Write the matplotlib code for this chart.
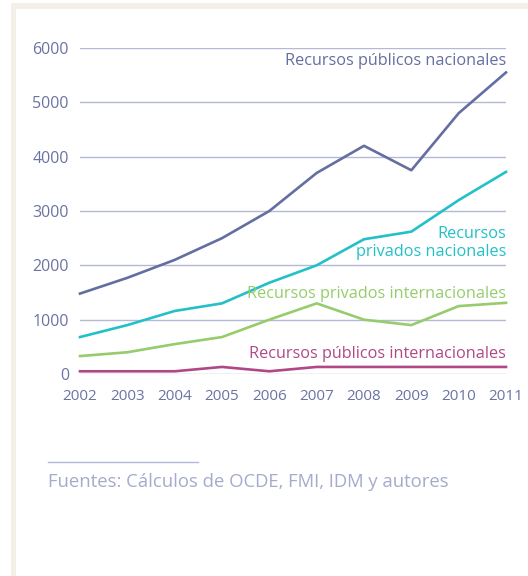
import matplotlib
matplotlib.use("Agg")
import matplotlib.pyplot as plt
from matplotlib.patches import Rectangle
from matplotlib.lines import Line2D

plt.rcParams['font.family'] = ['Open Sans', 'DejaVu Sans']

years = [2002, 2003, 2004, 2005, 2006, 2007, 2008, 2009, 2010, 2011]
pub_nac = [1480, 1770, 2100, 2500, 3000, 3700, 4200, 3750, 4800, 5550]
priv_nac = [680, 900, 1160, 1300, 1680, 2000, 2480, 2620, 3200, 3720]
priv_int = [330, 400, 550, 680, 1000, 1300, 1000, 900, 1250, 1310]
pub_int = [50, 50, 50, 130, 50, 130, 130, 130, 130, 130]
yticks = [0, 1000, 2000, 3000, 4000, 5000, 6000]

c_pn = '#646ea0'
c_prn = '#22c0c8'
c_pri = '#96cc6c'
c_pi = '#b04886'
c_grid = '#b4bad6'
c_tick = '#6a73a3'

W, H = 528, 576
fig = plt.figure(figsize=(W/100, H/100), dpi=100)
fig.patch.set_facecolor('white')
fig.patches.append(Rectangle((11/W, 0), 1, 1 - 3/H, transform=fig.transFigure,
                             facecolor='#f4f0e8', edgecolor='none', zorder=-10))
fig.patches.append(Rectangle((16/W, 0), 1, 1 - 9/H, transform=fig.transFigure,
                             facecolor='white', edgecolor='none', zorder=-9))

ax = fig.add_axes([80/W, 1 - 374/H, (506-80)/W, (374-48)/H])
ax.set_zorder(5)
ax.set_facecolor('none')
ax.set_xlim(2002, 2011)
ax.set_ylim(0, 6000)
for y in yticks:
    ax.axhline(y, color=c_grid, lw=1.0, zorder=1)

ax.plot(years, pub_nac, color=c_pn, lw=1.9, zorder=3, clip_on=False)
ax.plot(years, priv_nac, color=c_prn, lw=1.9, zorder=3, clip_on=False)
ax.plot(years, priv_int, color=c_pri, lw=1.9, zorder=3, clip_on=False)
ax.plot(years, pub_int, color=c_pi, lw=1.9, zorder=3, clip_on=False)

for s in ax.spines.values():
    s.set_visible(False)
ax.set_yticks(yticks)
ax.set_yticklabels([str(v) for v in yticks])
ax.set_xticks(years)
ax.set_xticklabels([str(v) for v in years])
ax.tick_params(length=0, colors=c_tick)
ax.tick_params(axis='y', pad=8, labelsize=11.5)
ax.tick_params(axis='x', pad=11, labelsize=11)

fs = 11.7
ax.text(2011, 5760, 'Recursos públicos nacionales', color=c_pn, fontsize=fs,
        ha='right', va='center', clip_on=False)
ax.text(2011, 2410, 'Recursos\nprivados nacionales', color=c_prn, fontsize=fs,
        ha='right', va='center', linespacing=1.1)
ax.text(2011, 1480, 'Recursos privados internacionales', color=c_pri, fontsize=fs,
        ha='right', va='center')
ax.text(2011, 365, 'Recursos públicos internacionales', color=c_pi, fontsize=fs,
        ha='right', va='center')

fig.lines.append(Line2D([48/W, 198/W], [1 - 462/H, 1 - 462/H], transform=fig.transFigure,
                        color='#b4bad6', lw=1.0))
fig.text(48/W, 1 - 482/H, 'Fuentes: Cálculos de OCDE, FMI, IDM y autores', color='#a4abcb',
         fontsize=13.3, ha='left', va='center')

fig.savefig('out.png', dpi=100, facecolor=fig.get_facecolor())
